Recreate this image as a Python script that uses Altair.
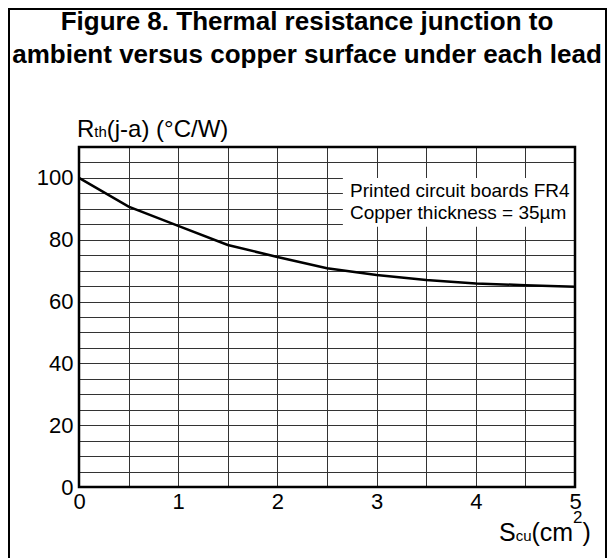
import altair as alt
import pandas as pd

# ---- data ----
s_cu = [0, 0.5, 1, 1.5, 2, 2.5, 3, 3.5, 4, 4.5, 5]
rth = [100, 90.7, 84.5, 78.3, 74.4, 70.8, 68.6, 67.0, 65.8, 65.3, 64.8]
x_grid = [0, 0.5, 1, 1.5, 2, 2.5, 3, 3.5, 4, 4.5, 5]
y_grid = list(range(0, 111, 5))
title_lines = ["Figure 8. Thermal resistance junction to",
               "ambient versus copper surface under each lead"]
note_lines = ["Printed circuit boards FR4", "Copper thickness = 35\u00b5m"]
note_box = {"x": 2.66, "x2": 5.0, "y": 84.2, "y2": 100.0}

W, H = 496, 340
FONT = "Liberation Sans"

xs = alt.Scale(domain=[0, 5], nice=False, zero=False)
ys = alt.Scale(domain=[0, 110], nice=False, zero=False)

x_axis = alt.Axis(values=x_grid, title=None, grid=True, ticks=False, domain=False,
                  labelExpr="datum.value % 1 == 0 ? format(datum.value, 'd') : ''",
                  labelFont=FONT, labelFontSize=22, labelColor="black",
                  labelPadding=4, labelFlush=False, labelOverlap=False,
                  gridColor="#333333", gridWidth=1, gridOpacity=1)
y_axis = alt.Axis(values=y_grid, title=None, grid=True, ticks=False, domain=False,
                  labelExpr="datum.value % 20 == 0 ? format(datum.value, 'd') : ''",
                  labelFont=FONT, labelFontSize=22, labelColor="black",
                  labelPadding=6, labelOverlap=False,
                  gridColor="#333333", gridWidth=1, gridOpacity=1)

box = alt.Chart(pd.DataFrame([note_box])).mark_rect(fill="white").encode(
    x=alt.X("x:Q", scale=xs, axis=x_axis),
    x2="x2:Q",
    y=alt.Y("y:Q", scale=ys, axis=y_axis),
    y2="y2:Q",
)

curve_df = pd.DataFrame({"s": s_cu, "r": rth})
curve = alt.Chart(curve_df).mark_line(color="black", strokeWidth=2.5).encode(
    x=alt.X("s:Q", scale=xs, axis=x_axis),
    y=alt.Y("r:Q", scale=ys, axis=y_axis),
)


def label(text, x, y, size, weight="normal", align="left"):
    return alt.Chart(pd.DataFrame({"t": [text]})).mark_text(
        font=FONT, fontSize=size, fontWeight=weight, align=align,
        baseline="alphabetic", color="black"
    ).encode(x=alt.value(x), y=alt.value(y), text="t:N")


layers = [box, curve]

# plot border
layers.append(
    alt.Chart(pd.DataFrame({"a": [0]})).mark_rect(filled=False, stroke="black", strokeWidth=2.5)
    .encode(x=alt.value(0), x2=alt.value(W), y=alt.value(0), y2=alt.value(H))
)
# outer frame
layers.append(
    alt.Chart(pd.DataFrame({"a": [0]})).mark_rect(filled=False, stroke="black", strokeWidth=2)
    .encode(x=alt.value(-70), x2=alt.value(W + 31), y=alt.value(-138), y2=alt.value(H + 120))
)

# title
layers.append(label(title_lines[0], 228, -117, 26, "bold", "center"))
layers.append(label(title_lines[1], 228, -84, 26, "bold", "center"))

# note
layers.append(label(note_lines[0], 271, 50, 19))
layers.append(label(note_lines[1], 271, 72, 19))

# y title  R_th(j-a) (°C/W)
layers.append(label("R", -2, -10, 24))
layers.append(label("th", 15.3, -10, 15))
layers.append(label("(j-a) (\u00b0C/W)", 27.8, -10, 24))

# x title  S_cu(cm^2)
layers.append(label("S", 420, 394, 25))
layers.append(label("cu", 436.7, 394, 15))
layers.append(label("(cm", 452.5, 394, 25))
layers.append(label("2", 494.1, 376, 17))
layers.append(label(")", 503.6, 394, 25))

chart = alt.layer(*layers).properties(
    width=W, height=H,
    padding={"left": 71, "top": 139, "right": 32, "bottom": 71},
    autosize=alt.AutoSizeParams(type="none"),
    background="white",
).configure_view(stroke=None)

chart.save("out.html", embed_options={"renderer": "svg", "actions": False})
